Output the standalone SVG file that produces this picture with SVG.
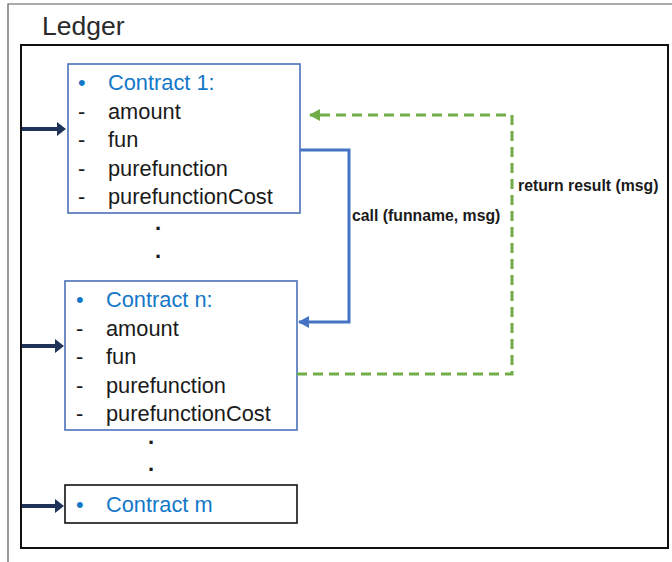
<svg xmlns="http://www.w3.org/2000/svg" width="672" height="562" viewBox="0 0 672 562">
<style>
.t{font-family:"Liberation Sans",Arial,sans-serif;font-size:21.8px;fill:#1a1a1a}
.c{fill:#1478c8}
.lbl{font-family:"Liberation Sans",Arial,sans-serif;font-size:15.8px;font-weight:bold;fill:#1a1a1a}
.box{fill:#fff;stroke:#4a70b8;stroke-width:1.6}
.dot{font-family:"Liberation Sans",Arial,sans-serif;font-size:22px;font-weight:bold;fill:#1a1a1a}
.nav{fill:#1f3358}
</style>
<defs>
<marker id="blue" markerWidth="12" markerHeight="12" refX="10" refY="6" orient="auto" markerUnits="userSpaceOnUse"><path d="M0,0 L11,6 L0,12 z" fill="#4472c4"/></marker>
<marker id="green" markerWidth="12" markerHeight="12" refX="10" refY="6" orient="auto" markerUnits="userSpaceOnUse"><path d="M0,0 L11,6 L0,12 z" fill="#70ad47"/></marker>
</defs>
<rect width="672" height="562" fill="#fff"/>
<path d="M680 4 H8 V570" fill="none" stroke="#5a5a5a" stroke-width="1.2"/>
<text x="42" y="35" font-family="'Liberation Sans',Arial,sans-serif" font-size="26.5" fill="#2a2a2a">Ledger</text>
<rect id="ledger" x="21" y="45" width="647" height="503" fill="none" stroke="#111" stroke-width="2"/>

<g id="contract1">
<rect class="box" x="68" y="64" width="232" height="149"/>
<text class="t c" x="78" y="90">•</text><text class="t c" x="108" y="90">Contract 1:</text>
<text class="t" x="78" y="118.5">-</text><text class="t" x="108" y="118.5">amount</text>
<text class="t" x="78" y="147">-</text><text class="t" x="108" y="147">fun</text>
<text class="t" x="78" y="175.5">-</text><text class="t" x="108" y="175.5">purefunction</text>
<text class="t" x="78" y="204">-</text><text class="t" x="108" y="204">purefunctionCost</text>
</g>
<g id="dots1">
<text class="dot" x="155" y="230">.</text>
<text class="dot" x="155" y="258">.</text>
</g>
<g id="contractn">
<rect class="box" x="65" y="281" width="232" height="149"/>
<text class="t c" x="76" y="307">•</text><text class="t c" x="106" y="307">Contract n:</text>
<text class="t" x="76" y="335.5">-</text><text class="t" x="106" y="335.5">amount</text>
<text class="t" x="76" y="364">-</text><text class="t" x="106" y="364">fun</text>
<text class="t" x="76" y="392.5">-</text><text class="t" x="106" y="392.5">purefunction</text>
<text class="t" x="76" y="421">-</text><text class="t" x="106" y="421">purefunctionCost</text>
</g>
<g id="dots2">
<text class="dot" x="148" y="444">.</text>
<text class="dot" x="148" y="471">.</text>
</g>
<g id="contractm">
<rect x="65" y="485" width="232" height="38" fill="#fff" stroke="#111" stroke-width="1.6"/>
<text class="t c" x="76" y="512">•</text><text class="t c" x="106" y="512">Contract m</text>
</g>

<g id="connectors">
<line x1="22" y1="129" x2="58" y2="129" stroke="#1f3358" stroke-width="4"/>
<path class="nav" d="M57 122 L66 129 L57 136 z"/>
<line x1="22" y1="346" x2="56" y2="346" stroke="#1f3358" stroke-width="4"/>
<path class="nav" d="M55 339 L64 346 L55 353 z"/>
<line x1="22" y1="506" x2="56" y2="506" stroke="#1f3358" stroke-width="4"/>
<path class="nav" d="M55 499 L64 506 L55 513 z"/>
<path d="M300 150 H349 V322 H299" fill="none" stroke="#4472c4" stroke-width="3" marker-end="url(#blue)"/>
<path d="M297 374 H512 V115 H310" fill="none" stroke="#70ad47" stroke-width="3" stroke-dasharray="10,6" marker-end="url(#green)"/>
<text class="lbl" x="352" y="221">call (funname, msg)</text>
<text class="lbl" x="518" y="191">return result (msg)</text>
</g>
</svg>
